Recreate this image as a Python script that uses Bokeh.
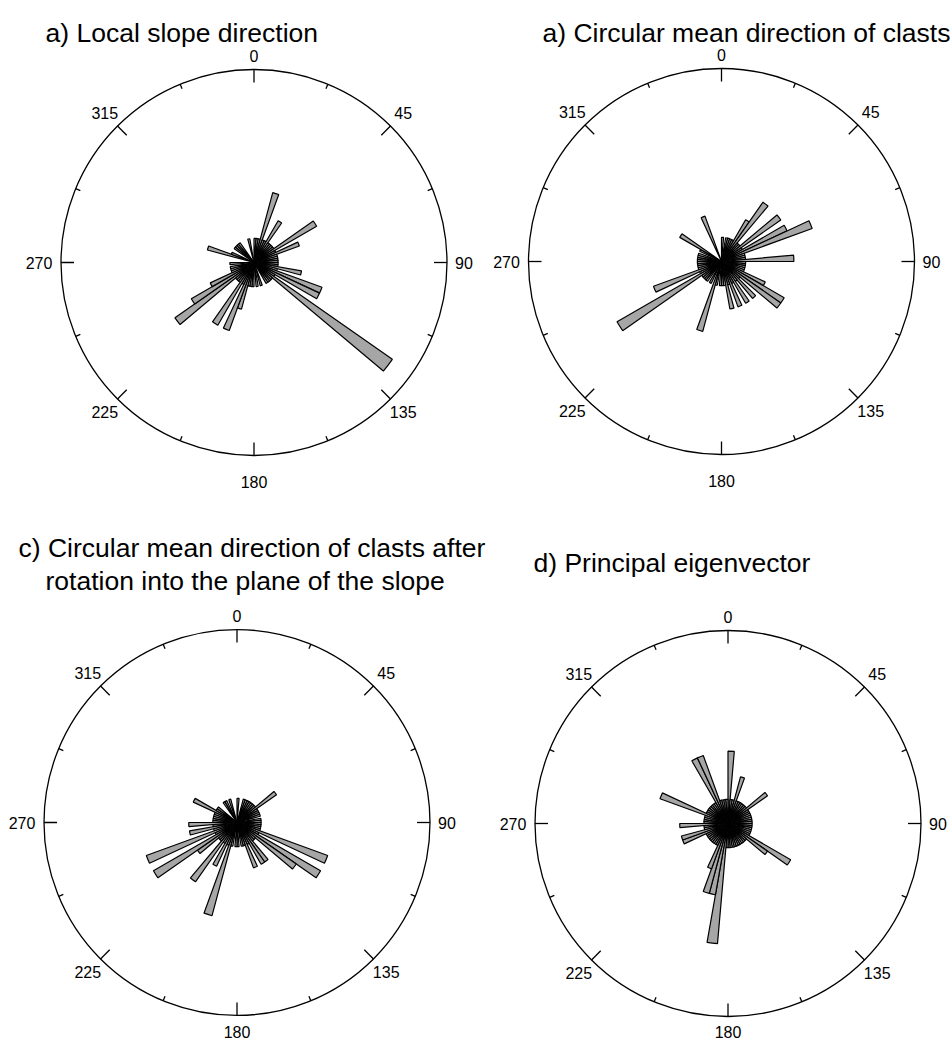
import numpy as np
from bokeh.plotting import figure
from bokeh.layouts import gridplot
from bokeh.models import Range1d
from bokeh.embed import file_html
from bokeh.resources import INLINE
from bokeh.core.properties import value

# ---------------- data ----------------
BIN_WIDTH_DEG = 5
bin_start_deg = list(range(0, 360, BIN_WIDTH_DEG))   # 72 bins, bearing clockwise from north
CIRCLE_COUNT = 8                                     # outer circle = 8 observations

# counts per 5-degree bin (rows of 9 bins = 45 degrees)
counts_a = [1, 1, 1, 3, 1, 1, 2, 1, 1,
            1, 1, 3, 1, 2, 1, 1, 1, 1,
            1, 1, 2, 1, 3, 3, 1, 7, 1,
            1, 1, 1, 0, 0, 1, 0, 1, 0,
            1, 1, 1, 2, 3, 1, 3, 1, 1,
            1, 4, 3, 2, 1, 1, 1, 0, 1,
            0, 0, 0, 2, 1, 0, 0, 1, 1,
            1, 1, 0, 0, 0, 0, 1, 0, 0]

counts_b = [1, 0, 1, 1, 1, 1, 2, 3, 1,
            1, 3, 1, 3, 4, 1, 1, 1, 3,
            1, 1, 1, 1, 1, 2, 3, 3, 1,
            2, 1, 2, 1, 2, 1, 2, 1, 1,
            1, 0, 1, 3, 0, 1, 0, 1, 1,
            1, 1, 5, 1, 3, 1, 1, 1, 1,
            1, 1, 1, 1, 0, 1, 2, 0, 0,
            0, 0, 0, 0, 2, 0, 0, 0, 0]

counts_c = [1, 0, 0, 1, 1, 1, 1, 1, 1,
            1, 2, 1, 1, 1, 1, 0, 1, 1,
            1, 1, 1, 1, 4, 1, 4, 3, 1,
            1, 2, 2, 1, 2, 1, 1, 0, 1,
            1, 0, 1, 4, 1, 2, 1, 3, 1,
            1, 2, 4, 1, 4, 1, 2, 1, 2,
            1, 1, 1, 1, 1, 2, 1, 1, 0,
            0, 0, 1, 1, 0, 1, 0, 0, 0]

counts_d = [3, 1, 1, 2, 1, 1, 1, 1, 1,
            1, 2, 1, 1, 1, 1, 1, 1, 1,
            1, 1, 1, 1, 1, 1, 3, 2, 1,
            1, 1, 1, 1, 1, 1, 1, 1, 1,
            1, 5, 3, 3, 2, 1, 1, 1, 1,
            1, 1, 1, 1, 2, 2, 1, 1, 2,
            1, 1, 1, 1, 3, 1, 1, 1, 1,
            1, 1, 1, 3, 3, 1, 1, 1, 1]

tick_major_deg = [0, 45, 90, 135, 180, 225, 270, 315]
tick_labels = ["0", "45", "90", "135", "180", "225", "270", "315"]
tick_minor_deg = [22.5, 67.5, 112.5, 157.5, 202.5, 247.5, 292.5, 337.5]

title_a = ["a) Local slope direction"]
title_b = ["a) Circular mean direction of clasts"]
title_c = ["c) Circular mean direction of clasts after",
           "rotation into the plane of the slope"]
title_d = ["d) Principal eigenvector"]

# ---------------- styling / layout ----------------
CIRCLE_PX = 193.0
S = CIRCLE_PX / CIRCLE_COUNT          # pixels per count
FONT = "Liberation Sans"
BAR_FILL = "#a6a6a6"
MAJOR_LEN = 13
MINOR_LEN = 5
LABEL_GAP = {0: 14, 45: 18, 90: 17, 135: 18, 180: 26, 225: 18, 270: 22, 315: 18}
SPLIT_X = 492                          # column boundary
LW, RW = SPLIT_X, 952 - SPLIT_X

panels = [
    dict(counts=counts_a, title=title_a, ox=0, oy=0, w=LW, h=521, cx=253.5, cy=262,
         tpos=[(45, 32)]),
    dict(counts=counts_b, title=title_b, ox=SPLIT_X, oy=0, w=RW, h=521, cx=721, cy=261,
         tpos=[(542, 32)]),
    dict(counts=counts_c, title=title_c, ox=0, oy=521, w=LW, h=521, cx=236.5, cy=822,
         tpos=[(18, 547), (45, 580)]),
    dict(counts=counts_d, title=title_d, ox=SPLIT_X, oy=521, w=RW, h=521, cx=727.5, cy=823,
         tpos=[(533, 562)]),
]


def make_panel(cfg):
    ox, oy, w, h, cx, cy = cfg["ox"], cfg["oy"], cfg["w"], cfg["h"], cfg["cx"], cfg["cy"]
    p = figure(width=w, height=h,
               x_range=Range1d((ox - cx) / S, (ox + w - cx) / S),
               y_range=Range1d((cy - oy - h) / S, (cy - oy) / S),
               output_backend="svg", toolbar_location=None,
               x_axis_location=None, y_axis_location=None,
               min_border=0, outline_line_color=None,
               background_fill_color="white", border_fill_color="white")
    p.grid.visible = False

    # rose wedges
    cnt = np.array(cfg["counts"], dtype=float)
    st = np.array(bin_start_deg, dtype=float)
    m = cnt > 0
    start = np.radians(90 - (st + BIN_WIDTH_DEG))[m]
    end = np.radians(90 - st)[m]
    p.wedge(x=0, y=0, radius=cnt[m], start_angle=start, end_angle=end,
            fill_color=BAR_FILL, line_color="black", line_width=1.2)

    # outer circle
    p.circle(x=[0], y=[0], radius=CIRCLE_COUNT, fill_color=None,
             line_color="black", line_width=1.3)

    # ticks
    for degs, ln in ((tick_major_deg, MAJOR_LEN), (tick_minor_deg, MINOR_LEN)):
        a = np.radians(degs)
        r0 = CIRCLE_COUNT - ln / S
        r1 = CIRCLE_COUNT
        p.segment(x0=r0 * np.sin(a), y0=r0 * np.cos(a),
                  x1=r1 * np.sin(a), y1=r1 * np.cos(a),
                  line_color="black", line_width=1.3)

    # tick labels (kept inside the panel edges)
    lx, ly = [], []
    ymin = (cy - oy - h) / S
    xmax = (ox + w - cx) / S
    for d, lab in zip(tick_major_deg, tick_labels):
        rr = CIRCLE_COUNT + LABEL_GAP[d] / S
        a = np.radians(d)
        half_w = 4.6 * len(lab) + 2
        lx.append(min(rr * np.sin(a), xmax - half_w / S))
        ly.append(max(rr * np.cos(a), ymin + 11 / S))
    p.text(x=lx, y=ly, text=tick_labels, text_font=value(FONT),
           text_font_size="16px", text_align="center", text_baseline="middle",
           text_color="black")

    # title
    tx = [(x - cx) / S for x, _ in cfg["tpos"]]
    ty = [(cy - y) / S for _, y in cfg["tpos"]]
    p.text(x=tx, y=ty, text=cfg["title"], text_font=value(FONT),
           text_font_size="26.5px", text_align="left", text_baseline="alphabetic",
           text_color="black")
    return p


figs = [make_panel(c) for c in panels]
layout = gridplot([[figs[0], figs[1]], [figs[2], figs[3]]], toolbar_location=None)

open("out.html", "w").write(file_html(layout, INLINE))
